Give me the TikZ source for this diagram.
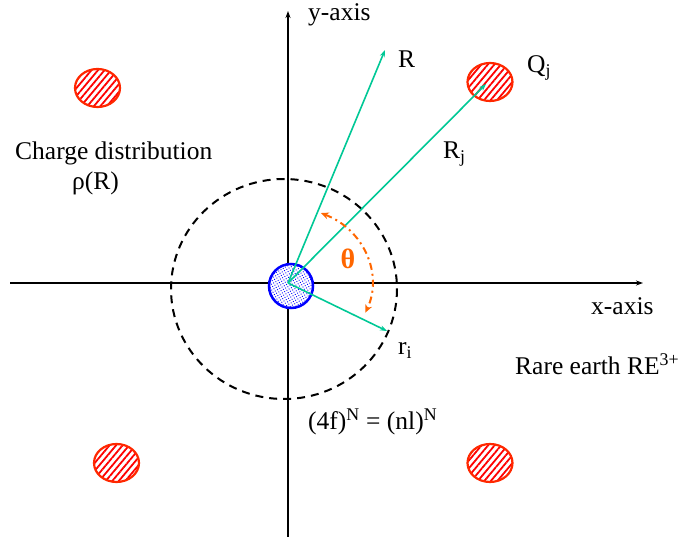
\documentclass[tikz,border=0pt]{standalone}
\usepackage{fontspec}
\setmainfont{Liberation Serif}
\usetikzlibrary{arrows.meta,patterns,patterns.meta,shapes.geometric,calc}
\definecolor{vecgreen}{RGB}{0,200,150}
\definecolor{thorange}{RGB}{255,102,0}
\definecolor{chred}{RGB}{255,40,0}
\tikzset{
  axis/.style={line width=1.3pt,-{Stealth[length=7pt,width=5pt]}},
  vec/.style={vecgreen,line width=1.6pt,-{Stealth[length=7pt,width=5pt]}},
  charge/.style={ellipse,draw=chred,line width=2.2pt,minimum width=45pt,minimum height=38pt,inner sep=0pt,
     preaction={fill=white},
     pattern={Lines[angle=50,distance=5pt,line width=1.8pt]},pattern color=red},
  lbl/.style={font=\fontsize{25.5}{29}\selectfont,inner sep=0pt,anchor=base west},
}
\begin{document}
\begin{tikzpicture}[x=1pt,y=-1pt]
\useasboundingbox (0,0) rectangle (681,537);
\coordinate (O) at (288,283);
\coordinate (ybot) at (288,537);
\coordinate (ytop) at (288,11);
\coordinate (xl) at (10,283);
\coordinate (xr) at (643,283);
\coordinate (C) at (284,289);
% dashed circle
\draw[line width=2pt,dash pattern=on 8pt off 6pt] (C) ellipse[x radius=113,y radius=110];
% axes
\draw[axis] (ybot) -- (ytop);
\draw[axis] (xl) -- (xr);
% charges
\node[charge] (c1) at (97.5,88) {};
\node[charge] (c2) at (490,82) {};
\node[charge] (c3) at (116.5,463) {};
\node[charge] (c4) at (490,463) {};
% nucleus
\node[circle,draw=blue,line width=2.5pt,minimum size=44pt,inner sep=0pt,
      preaction={fill=white},pattern={Dots[distance=2.6pt,radius=0.65pt,angle=30]},pattern color=blue] (nuc) at (291,286) {};
% vectors
\coordinate (Rt) at (385,50);
\coordinate (Qt) at (486,84);
\coordinate (rt) at (387,331);
\draw[vec] (O) -- (Rt);
\draw[vec] (O) -- (Qt);
\draw[vec] (O) -- (rt);
% theta arc
\coordinate (thA) at ($(O)+(-67:84 and 76)$);
\draw[thorange,line width=2pt,dash pattern=on 7pt off 4pt on 2pt off 4pt,
      {Stealth[length=8pt,width=7pt]}-{Stealth[length=8pt,width=7pt]}]
  (thA) arc[start angle=-67,end angle=23,x radius=84,y radius=76];
\node[font=\fontsize{28}{32}\selectfont\bfseries,text=thorange,inner sep=0pt] (th) at (348,259) {θ};
% labels
\node[lbl] (ylab) at (308,21) {y-axis};
\node[lbl] (Rlab) at (398,68) {R};
\node[lbl] (Qlab) at (527,73) {Q\textsubscript{j}};
\node[lbl] (Rjlab) at (443,159) {R\textsubscript{j}};
\node[lbl] (cd) at (15,160) {Charge distribution};
\node[lbl] (rho) at (72,190) {ρ(R)};
\node[lbl] (xlab) at (591,315) {x-axis};
\node[lbl] (rilab) at (398,355) {r\textsubscript{i}};
\node[lbl] (re) at (515,375) {Rare earth RE\textsuperscript{3+}};
\node[lbl] (conf) at (308,430) {(4f)\textsuperscript{N} = (nl)\textsuperscript{N}};
\end{tikzpicture}
\end{document}
